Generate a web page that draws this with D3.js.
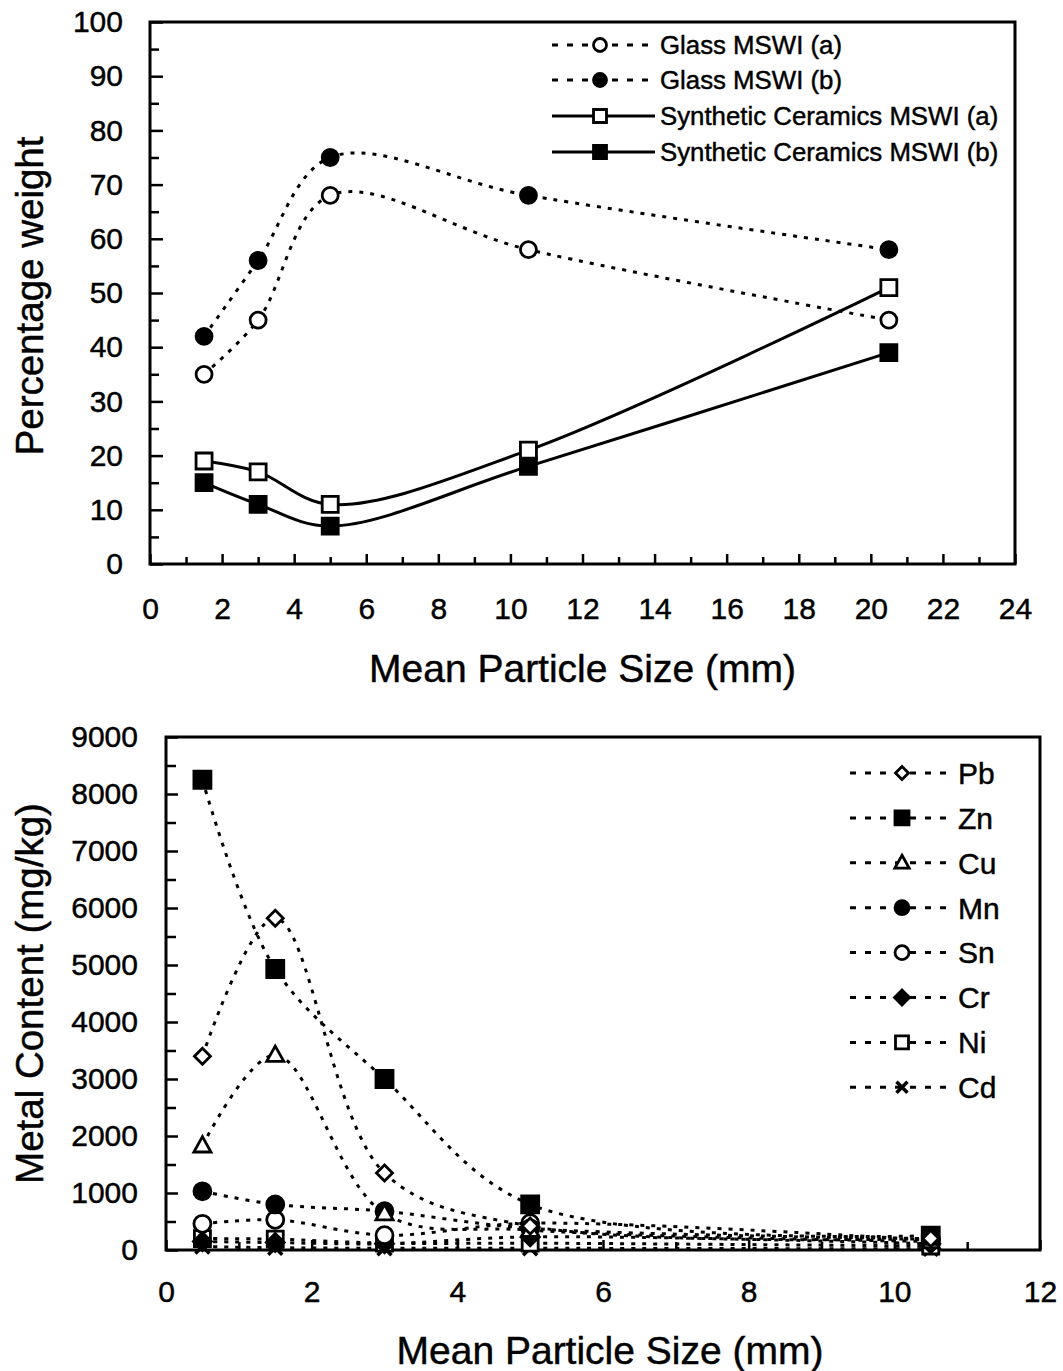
<!DOCTYPE html>
<html>
<head>
<meta charset="utf-8">
<script src="https://cdn.jsdelivr.net/npm/d3@7"></script>
<style>
  body { margin: 0; background: #fff; }
  svg { font-family: "Liberation Sans", Arial, sans-serif; }
  text { stroke: #000; stroke-width: 0.45px; }
</style>
</head>
<body>
<div id="chart"></div>
<script>
// ---- data: top panel (percentage weight) ----
var topSizes = [1.5, 3, 5, 10.5, 20.5];
var glassA   = [35, 45, 68, 58, 45];
var glassB   = [42, 56, 75, 68, 58];
var ceramA   = [19, 17, 11, 21, 51];
var ceramB   = [15, 11, 7, 18, 39];
var topNames = ["Glass MSWI (a)", "Glass MSWI (b)", "Synthetic Ceramics MSWI (a)", "Synthetic Ceramics MSWI (b)"];

// ---- data: bottom panel (metal content, mg/kg) ----
var botSizes = [0.5, 1.5, 3, 5, 10.5];
var metals   = ["Pb", "Zn", "Cu", "Mn", "Sn", "Cr", "Ni", "Cd"];
var pb = [3400, 5820, 1350, 420, 200];
var zn = [8250, 4930, 3000, 800, 250];
var cu = [1830, 3420, 640, 350, 150];
var mn = [1030, 800, 680, 380, 200];
var sn = [460, 530, 260, 470, 170];
var cr = [150, 130, 110, 230, 110];
var ni = [200, 190, 120, 120, 70];
var cd = [60, 40, 30, 30, 20];

var W = 1063, H = 1371;
var svg = d3.select("#chart").append("svg")
  .attr("width", W).attr("height", H);
svg.append("rect").attr("width", W).attr("height", H).attr("fill", "#fff");

// custom marker shapes (r = half size)
function shapePath(kind, r) {
  var p = d3.path();
  if (kind === "circle") { p.moveTo(r, 0); p.arc(0, 0, r, 0, 2 * Math.PI); }
  else if (kind === "square") { p.rect(-r, -r, 2 * r, 2 * r); }
  else if (kind === "diamond") { p.moveTo(0, -r); p.lineTo(r, 0); p.lineTo(0, r); p.lineTo(-r, 0); p.closePath(); }
  else if (kind === "triangle") { p.moveTo(0, -r); p.lineTo(r * 0.95, r * 0.7); p.lineTo(-r * 0.95, r * 0.7); p.closePath(); }
  else if (kind === "x") { p.moveTo(-r, -r); p.lineTo(r, r); p.moveTo(r, -r); p.lineTo(-r, r); }
  return p.toString();
}

function drawMarker(g, kind, filled, cx, cy, r) {
  g.append("path")
    .attr("transform", `translate(${cx},${cy})`)
    .attr("d", shapePath(kind, r))
    .attr("fill", kind === "x" ? "none" : (filled ? "#000" : "#fff"))
    .attr("stroke", "#000")
    .attr("stroke-width", kind === "x" ? 3.5 : 2.8);
}

function frame(g, x, y) {
  var r = x.range(), d = y.range();
  g.append("rect")
    .attr("x", r[0]).attr("y", d[1])
    .attr("width", r[1] - r[0]).attr("height", d[0] - d[1])
    .attr("fill", "none").attr("stroke", "#000").attr("stroke-width", 3);
}

function axes(g, x, y, o) {
  // minor ticks
  g.append("g").attr("transform", `translate(0,${y.range()[0]})`)
    .call(d3.axisBottom(x).tickValues(o.xMinor).tickSize(-o.xMinorLen).tickFormat(""))
    .call(a => a.select(".domain").remove())
    .selectAll("line").attr("stroke-width", 2.5);
  g.append("g").attr("transform", `translate(${x.range()[0]},0)`)
    .call(d3.axisLeft(y).tickValues(o.yMinor).tickSize(-o.yMinorLen).tickFormat(""))
    .call(a => a.select(".domain").remove())
    .selectAll("line").attr("stroke-width", 2.5);
  // major ticks + labels
  var xa = g.append("g").attr("transform", `translate(0,${y.range()[0]})`)
    .call(d3.axisBottom(x).tickValues(o.xMajor).tickSize(-o.xMajorLen).tickPadding(o.xPad).tickFormat(d3.format("d")));
  xa.select(".domain").remove();
  xa.selectAll("line").attr("stroke-width", 2.5);
  xa.selectAll("text").attr("font-size", o.tickFont).attr("fill", "#000").attr("font-family", null);
  var ya = g.append("g").attr("transform", `translate(${x.range()[0]},0)`)
    .call(d3.axisLeft(y).tickValues(o.yMajor).tickSize(-o.yMajorLen).tickPadding(o.yPad).tickFormat(d3.format("d")));
  ya.select(".domain").remove();
  ya.selectAll("line").attr("stroke-width", 2.5);
  ya.selectAll("text").attr("font-size", o.tickFont).attr("fill", "#000").attr("font-family", null);
}

var smooth = d3.curveCatmullRom.alpha(0.5);

// ================= TOP PANEL =================
var x1 = d3.scaleLinear().domain([0, 24]).range([150, 1015]);
var y1 = d3.scaleLinear().domain([0, 100]).range([564, 22]);
var g1 = svg.append("g");

axes(g1, x1, y1, {
  xMinor: d3.range(1, 24, 2), xMinorLen: 7,
  xMajor: d3.range(0, 25, 2), xMajorLen: 10, xPad: 34,
  yMinor: d3.range(5, 100, 10), yMinorLen: 9,
  yMajor: d3.range(0, 101, 10), yMajorLen: 13, yPad: 27,
  tickFont: 30
});
frame(g1, x1, y1);

var topSeries = [
  { name: topNames[0], vals: glassA, shape: "circle", filled: false, dash: "4,7" },
  { name: topNames[1], vals: glassB, shape: "circle", filled: true,  dash: "4,7" },
  { name: topNames[2], vals: ceramA, shape: "square", filled: false, dash: null },
  { name: topNames[3], vals: ceramB, shape: "square", filled: true,  dash: null }
];

var line1 = d3.line().curve(smooth).x(d => x1(d[0])).y(d => y1(d[1]));
topSeries.forEach(function(s) {
  var pts = topSizes.map((v, i) => [v, s.vals[i]]);
  g1.append("path").attr("d", line1(pts))
    .attr("fill", "none").attr("stroke", "#000")
    .attr("stroke-width", 3)
    .attr("stroke-dasharray", s.dash);
  pts.forEach(p => drawMarker(g1, s.shape, s.filled, x1(p[0]), y1(p[1]), 8));
});

// top legend
var legTopY = [45, 80, 116, 152];
topSeries.forEach(function(s, i) {
  var ly = legTopY[i];
  g1.append("line").attr("x1", 552).attr("x2", 655).attr("y1", ly).attr("y2", ly)
    .attr("stroke", "#000").attr("stroke-width", 3).attr("stroke-dasharray", s.dash ? "6,9" : null);
  drawMarker(g1, s.shape, s.filled, 600, ly, 6.5);
  g1.append("text").attr("x", 660).attr("y", ly).attr("dy", "0.36em")
    .attr("font-size", 25.8).text(s.name);
});

g1.append("text")
  .attr("x", (x1.range()[0] + x1.range()[1]) / 2).attr("y", 682)
  .attr("text-anchor", "middle").attr("font-size", 39)
  .text("Mean Particle Size (mm)");
g1.append("text")
  .attr("transform", `translate(43,${(y1.range()[0] + y1.range()[1]) / 2 + 3}) rotate(-90)`)
  .attr("text-anchor", "middle").attr("font-size", 38.5)
  .text("Percentage weight");

// ================= BOTTOM PANEL =================
var x2 = d3.scaleLinear().domain([0, 12]).range([166, 1040]);
var y2 = d3.scaleLinear().domain([0, 9000]).range([1250, 737]);
var g2 = svg.append("g");

axes(g2, x2, y2, {
  xMinor: d3.range(1, 12, 2), xMinorLen: 8,
  xMajor: d3.range(0, 13, 2), xMajorLen: 10, xPad: 31,
  yMinor: d3.range(500, 9000, 1000), yMinorLen: 10,
  yMajor: d3.range(0, 9001, 1000), yMajorLen: 12, yPad: 28,
  tickFont: 30
});
frame(g2, x2, y2);

var botSeries = [
  { vals: pb, shape: "diamond",  filled: false, r: 8 },
  { vals: zn, shape: "square",   filled: true,  r: 8.5 },
  { vals: cu, shape: "triangle", filled: false, r: 9 },
  { vals: mn, shape: "circle",   filled: true,  r: 8.5 },
  { vals: sn, shape: "circle",   filled: false, r: 8.5 },
  { vals: cr, shape: "diamond",  filled: true,  r: 9 },
  { vals: ni, shape: "square",   filled: false, r: 8 },
  { vals: cd, shape: "x",        filled: false, r: 7 }
];

var line2 = d3.line().curve(smooth).x(d => x2(d[0])).y(d => y2(d[1]));
botSeries.forEach(function(s) {
  var pts = botSizes.map((v, i) => [v, s.vals[i]]);
  g2.append("path").attr("d", line2(pts))
    .attr("fill", "none").attr("stroke", "#000")
    .attr("stroke-width", 3).attr("stroke-dasharray", "4,7");
});
botSeries.slice().reverse().forEach(function(s) {
  botSizes.forEach((v, i) => drawMarker(g2, s.shape, s.filled, x2(v), y2(s.vals[i]), s.r));
});

// bottom legend
botSeries.forEach(function(s, i) {
  var ly = 773 + i * 44.9;
  g2.append("line").attr("x1", 850).attr("x2", 953).attr("y1", ly).attr("y2", ly)
    .attr("stroke", "#000").attr("stroke-width", 3).attr("stroke-dasharray", "6,9");
  drawMarker(g2, s.shape, s.filled, 902, ly, s.r - 1.5);
  g2.append("text").attr("x", 958).attr("y", ly).attr("dy", "0.36em")
    .attr("font-size", 30).text(metals[i]);
});

g2.append("text")
  .attr("x", 610).attr("y", 1364)
  .attr("text-anchor", "middle").attr("font-size", 39)
  .text("Mean Particle Size (mm)");
g2.append("text")
  .attr("transform", `translate(43,${(y2.range()[0] + y2.range()[1]) / 2}) rotate(-90)`)
  .attr("text-anchor", "middle").attr("font-size", 38.5)
  .text("Metal Content (mg/kg)");
</script>
</body>
</html>
